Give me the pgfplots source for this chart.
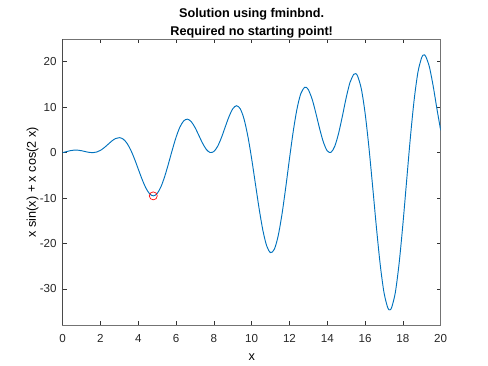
\documentclass[border=0pt]{standalone}
\usepackage{fontspec}
\setmainfont{Liberation Sans}
\usepackage{pgfplots}
\pgfplotsset{compat=1.18}
\definecolor{mblue}{rgb}{0,0.447,0.741}
\begin{document}
\begin{tikzpicture}
\path[use as bounding box] (-47.0pt,-30.5pt) rectangle (319.0pt,244.0pt);
\begin{axis}[
  at={(0,0)}, anchor=south west,
  scale only axis, width=283.5pt, height=214.7pt,
  xmin=0, xmax=20, ymin=-38, ymax=25,
  xtick={0,2,...,20}, ytick={-30,-20,-10,0,10,20},
  tick align=inside, major tick length=3pt,
  xtick pos=both, ytick pos=both,
  axis line style={black!55, line width=0.5pt},
  tick style={black!80, line width=0.5pt},
  /pgf/number format/assume math mode=true,
  ticklabel style={font=\fontsize{8.7}{10}\selectfont, text=black!85},
  xticklabel style={yshift=-3.5pt},
  yticklabel style={xshift=-1pt},
  title={Solution using fminbnd.\\Required no starting point!},
  title style={at={(axis description cs:0.5,1)}, anchor=south, yshift=-5.5pt, inner sep=0pt, align=center, font=\bfseries\fontsize{9.5}{13.5}\selectfont},
  xlabel={x}, ylabel={x sin(x) + x cos(2 x)},
  xlabel style={at={(axis description cs:0.5,-0.1118)}, anchor=center, font=\fontsize{9.5}{11}\selectfont},
  ylabel style={at={(axis description cs:-0.0794,0.5)}, anchor=center, font=\fontsize{9.5}{11}\selectfont},
]
\addplot[mblue, line width=0.7pt, smooth, no markers] coordinates {
(0,0) (0.2,0.22395) (0.4,0.43445) (0.6,0.55620) (0.8,0.55052) (1.0,0.42532)
(1.2,0.23357) (1.4,0.06052) (1.6,0.00204) (1.8,0.13876) (2.0,0.51131)
(2.2,1.10256) (2.4,1.83111) (2.6,2.55845) (2.8,3.10955) (3.0,3.30387)
(3.2,2.99140) (3.4,2.08711) (3.6,0.59700) (3.8,-1.37027) (4.0,-3.60921)
(4.2,-5.84164) (4.4,-7.75585) (4.6,-9.05526) (4.8,-9.50810) (5.0,-8.98997)
(5.2,-7.51109) (5.4,-5.22230) (5.6,-2.39827) (5.8,0.60139) (6.0,3.38663)
(6.2,5.59924) (6.4,6.97204) (6.6,7.37501) (6.8,6.83956) (7.0,5.55606)
(7.2,3.84372) (7.4,2.09683) (7.6,0.71578) (7.8,0.03406) (8.0,0.25360)
(8.2,1.40040) (8.4,3.30894) (8.6,5.63918) (8.8,7.92582) (9.0,9.65192)
(9.2,10.33648) (9.4,9.62134) (9.6,7.34297) (9.8,3.57609) (10.0,-1.35939)
(10.2,-6.93116) (10.4,-12.46355) (10.6,-17.23351) (10.8,-20.57838) (11.0,-21.99945)
(11.2,-21.24369) (11.4,-18.35014) (11.6,-13.65233) (11.8,-7.73465) (12.0,-1.34874)
(12.2,4.69840) (12.4,9.66637) (12.6,12.99515) (12.8,14.39124) (12.9,14.3576)
(13.0,13.87213) (13.2,11.76080) (13.4,8.63043) (13.6,5.21421) (13.8,2.24349)
(14.0,0.39204) (14.2,0.08240) (14.4,1.44962) (14.6,4.26964) (14.8,8.03274)
(15.0,12.06810) (15.2,15.42017) (15.4,17.23808) (15.5,17.3788) (15.6,16.91870)
(15.8,14.08096) (16.0,8.74114) (16.2,1.31563) (16.4,-7.42031) (16.6,-16.43418)
(16.8,-24.58037) (17.0,-30.76941) (17.2,-34.13374) (17.3,-34.5805) (17.4,-34.16330)
(17.6,-30.79048) (17.8,-24.40887) (18.0,-15.82108) (18.2,-6.12392) (18.4,3.45438)
(18.6,11.73723) (18.8,17.77643) (19.0,20.99407) (19.1,21.4873) (19.2,21.26563)
(19.4,18.93190) (19.6,14.73555) (19.8,9.69297) (20.0,4.92014)
};
\addplot[red, only marks, mark=o, mark size=3pt, mark options={line width=0.5pt}] coordinates {(4.795,-9.51)};
\draw[black, line width=0.5pt] (rel axis cs:0,0) -- (rel axis cs:0,1);
\end{axis}
\end{tikzpicture}
\end{document}
